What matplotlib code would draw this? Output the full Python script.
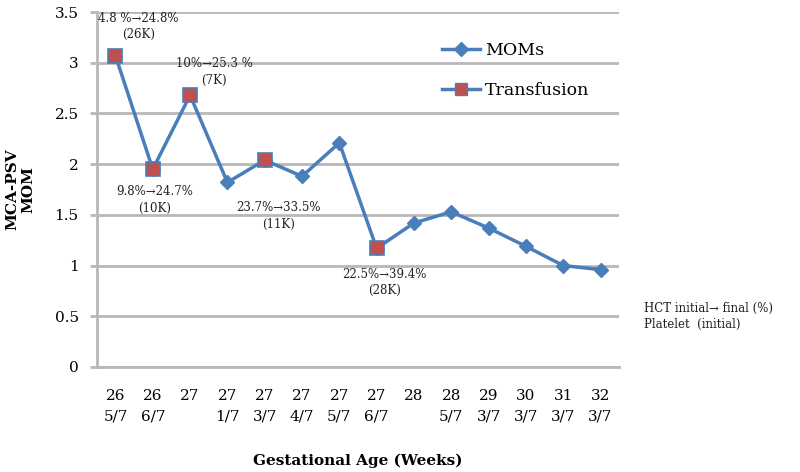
import matplotlib.pyplot as plt
from matplotlib.lines import Line2D

ages = ["26\n5/7", "26\n6/7", "27", "27\n1/7", "27\n3/7", "27\n4/7", "27\n5/7",
        "27\n6/7", "28", "28\n5/7", "29\n3/7", "30\n3/7", "31\n3/7", "32\n3/7"]
moms = [3.07, 1.95, 2.68, 1.82, 2.04, 1.88, 2.21, 1.17, 1.42, 1.53, 1.37, 1.19, 1.00, 0.96]
transfusion_idx = [0, 1, 2, 4, 7]
transfusion_labels = ["4.8 %\u219224.8%\n(26K)", "9.8%\u219224.7%\n(10K)",
                      "10%\u219225.3 %\n(7K)", "23.7%\u219233.5%\n(11K)",
                      "22.5%\u219239.4%\n(28K)"]
label_offsets = [(23, 29), (2, -31), (24, 23), (14, -56), (8, -34)]

blue = "#4a7ebb"
red = "#c0504d"
grid = "#b8b8b8"
serif = ["DejaVu Serif"]

plt.rcParams["font.family"] = serif

fig = plt.figure(figsize=(8, 4.72), dpi=100)
ax = fig.add_axes([0.121, 0.2225, 0.653, 0.752])

x = list(range(len(moms)))
ax.plot(x, moms, color=blue, lw=2.5, marker="D", ms=7, mfc=blue, mec=blue, zorder=3)
tx = transfusion_idx
ty = [moms[i] for i in tx]
ax.plot(tx, ty, ls="none", marker="s", ms=10, mfc=red, mec=blue, mew=1.2, zorder=4)

for i, lab, off in zip(tx, transfusion_labels, label_offsets):
    ax.annotate(lab, (i, moms[i]), xytext=off, textcoords="offset pixels",
                ha="center", va="center", fontsize=8.5, color="#222222",
                linespacing=1.35, zorder=5)

ax.set_xlim(-0.5, len(moms) - 0.5)
ax.set_ylim(0, 3.5)
ax.set_yticks([0, 0.5, 1, 1.5, 2, 2.5, 3, 3.5])
ax.set_yticklabels(["0", "0.5", "1", "1.5", "2", "2.5", "3", "3.5"], fontsize=11)
ax.set_xticks(x)
ax.set_xticklabels(ages, fontsize=11, va="top", linespacing=1.55)
ax.tick_params(axis="x", length=0, pad=16)
ax.tick_params(axis="y", length=5, width=2, color=grid, pad=8)

ax.grid(axis="y", color=grid, lw=2)
ax.set_axisbelow(True)
for s in ["top", "right"]:
    ax.spines[s].set_visible(False)
ax.spines["left"].set_color(grid)
ax.spines["left"].set_linewidth(2)
ax.spines["bottom"].set_color(grid)
ax.spines["bottom"].set_linewidth(2)

ax.set_ylabel("MCA-PSV\nMOM", fontsize=11, fontweight="bold", labelpad=14,
              linespacing=1.2)
ax.set_xlabel("Gestational Age (Weeks)", fontsize=11, fontweight="bold", labelpad=22)

handles = [
    Line2D([], [], color=blue, lw=2.5, marker="D", ms=7, mfc=blue, mec=blue),
    Line2D([], [], color=blue, lw=2.5, marker="s", ms=8, mfc=red, mec=blue),
]
ax.legend(handles, ["MOMs", "Transfusion"], loc="upper left",
          bbox_to_anchor=(0.63, 0.96), frameon=False, fontsize=12.5,
          handlelength=2.2, labelspacing=1.35, handletextpad=0.3)

fig.text(0.805, 0.33, "HCT initial\u2192 final (%)\nPlatelet  (initial)",
         fontsize=8.5, va="center", ha="left", color="#222222", linespacing=1.3)

fig.savefig("out.png", dpi=100)
